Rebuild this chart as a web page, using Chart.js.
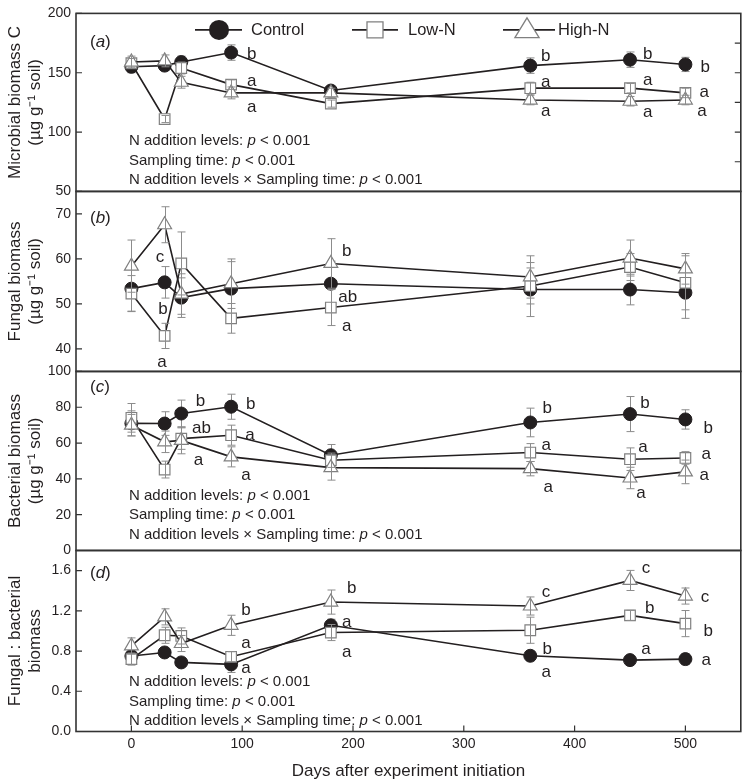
<!DOCTYPE html>
<html><head><meta charset="utf-8">
<script src="https://cdn.jsdelivr.net/npm/chart.js@4.4.0/dist/chart.umd.min.js"></script>
<style>html,body{margin:0;padding:0;background:#fff;}#wrap{position:relative;width:750px;height:782px;}</style>
</head><body><div id="wrap"><canvas id="c" width="750" height="782"></canvas></div>
<script>
// ---------- DATA ----------
const days = [0, 30, 45, 90, 180, 360, 450, 500];
const seriesNames = ['Control', 'Low-N', 'High-N'];

// (a) Microbial biomass C
const mbcControl = [155, 156, 159, 167, 135, 156, 161, 157];
const mbcLowN    = [158, 111, 154, 140, 124, 137, 137, 133];
const mbcHighN   = [159, 160, 142, 133, 133, 127, 126, 127];
const mbcErrControl = [5, 4, 5, 6.5, 4, 6.5, 6.5, 6];
const mbcErrLowN    = [4, 3, 5, 4, 3, 5, 4, 4];
const mbcErrHighN   = [5, 5, 5, 5, 4, 4, 4, 4];

// (b) Fungal biomass
const fungControl = [53.4, 54.8, 51.4, 53.4, 54.5, 53.2, 53.2, 52.5];
const fungLowN    = [52.3, 42.9, 59.0, 46.8, 49.2, 54.0, 58.2, 54.7];
const fungHighN   = [58.4, 67.6, 52.2, 54.5, 59.0, 56.0, 60.2, 57.8];
const fungErrControl = [5, 3.5, 4.4, 6, 5, 6, 3.4, 5.7];
const fungErrLowN    = [4, 2.8, 7, 3.3, 4, 4, 3, 6];
const fungErrHighN   = [5.8, 4, 4.5, 5.5, 5.5, 4.7, 4, 3.4];

// (c) Bacterial biomass
const bactControl = [71, 70.9, 76.5, 80.3, 53.2, 71.5, 76.2, 73.2];
const bactLowN    = [74.1, 45.2, 62.5, 64.4, 50.4, 54.7, 51, 51.7];
const bactHighN   = [70, 60.7, 61.5, 52.3, 46.3, 45.7, 40.5, 43.9];
const bactErrControl = [7, 6.6, 7.5, 7, 6, 8, 9.8, 5.4];
const bactErrLowN    = [8, 4.7, 6, 5.6, 4, 5, 6.3, 3.5];
const bactErrHighN   = [6, 6, 7.5, 5.6, 7, 4, 6, 6.6];

// (d) Fungal : bacterial biomass
const ratioControl = [0.75, 0.786, 0.687, 0.667, 1.056, 0.753, 0.71, 0.72];
const ratioLowN    = [0.72, 0.957, 0.95, 0.743, 0.984, 1.007, 1.155, 1.073];
const ratioHighN   = [0.851, 1.14, 0.875, 1.056, 1.287, 1.248, 1.502, 1.347];
const ratioErrControl = [0.04, 0.03, 0.03, 0.08, 0.06, 0.05, 0.02, 0.055];
const ratioErrLowN    = [0.06, 0.08, 0.08, 0.05, 0.08, 0.13, 0.05, 0.13];
const ratioErrHighN   = [0.08, 0.08, 0.08, 0.1, 0.12, 0.09, 0.1, 0.08];

// significance letters: [day, value, letter]
const lettersA = [[108.7,165.5,'b'],[108.7,142.7,'a'],[108.7,120.8,'a'],
  [374,163.8,'b'],[374,141.9,'a'],[374,117.4,'a'],
  [466,165.5,'b'],[466,143.6,'a'],[466,116.6,'a'],
  [518,154.5,'b'],[517,133.4,'a'],[515,117.4,'a']];
const lettersB = [[25.8,60.3,'c'],[28.5,48.8,'b'],[27.6,37.1,'a'],
  [194.3,61.6,'b'],[195.2,51.5,'ab'],[194.3,45.1,'a']];
const lettersC = [[62.4,83.6,'b'],[63.3,68,'ab'],[60.6,50.5,'a'],
  [107.8,81.4,'b'],[107,64.6,'a'],[103.4,42.2,'a'],
  [375.2,79.2,'b'],[374.3,59,'a'],[376.1,35.5,'a'],
  [463.5,82,'b'],[461.7,57.9,'a'],[459.9,32.1,'a'],
  [520.5,68,'b'],[518.7,53.5,'a'],[516.9,42.2,'a']];
const lettersD = [[103.4,1.205,'b'],[103.4,0.878,'a'],[103.4,0.631,'a'],
  [198.8,1.423,'b'],[194.3,1.086,'a'],[194.3,0.789,'a'],
  [374.3,1.383,'c'],[375.2,0.819,'b'],[374.3,0.591,'a'],
  [464.4,1.621,'c'],[467.9,1.225,'b'],[464.4,0.819,'a'],
  [517.8,1.334,'c'],[520.5,0.997,'b'],[518.7,0.71,'a']];

const statsLines = [
  [['N addition levels: ', false], ['p', true], [' < 0.001', false]],
  [['Sampling time: ', false], ['p', true], [' < 0.001', false]],
  [['N addition levels \u00d7 Sampling time: ', false], ['p', true], [' < 0.001', false]]
];

const xTicks = [0, 100, 200, 300, 400, 500];
const yTicksA = [50, 100, 150, 200];
const yMinorRightA = [75, 100, 125, 150, 175];
const yTicksB = [40, 50, 60, 70];
const yTicksC = [0, 20, 40, 60, 80, 100];
const yTicksD = [0, 0.4, 0.8, 1.2, 1.6];

const titleA = ['Microbial biomass C', '(\u00b5g g\u207b\u00b9 soil)'];
const titleB = ['Fungal biomass', '(\u00b5g g\u207b\u00b9 soil)'];
const titleC = ['Bacterial biomass', '(\u00b5g g\u207b\u00b9 soil)'];
const titleD = ['Fungal : bacterial', 'biomass'];
const xTitle = 'Days after experiment initiation';

// ---------- STYLE ----------
const FONT = '"Liberation Sans", Arial, Helvetica, sans-serif';
const INK = '#231f20';
const GREY = '#808080';
const ERR = '#8c8c8c';

const panels = [
  {id:'yA', key:'a', min:50, max:200, ticks:yTicksA, title:titleA, weight:179,
   series:[mbcControl, mbcLowN, mbcHighN], errs:[mbcErrControl, mbcErrLowN, mbcErrHighN],
   letters:lettersA, stats:true, statsBottom:-11.5, labelY:28.5, rightMinor:yMinorRightA},
  {id:'yB', key:'b', min:35, max:75, ticks:yTicksB, title:titleB, weight:181,
   series:[fungControl, fungLowN, fungHighN], errs:[fungErrControl, fungErrLowN, fungErrHighN],
   letters:lettersB, stats:false, labelY:26.5},
  {id:'yC', key:'c', min:0, max:100, ticks:yTicksC, title:titleC, weight:180,
   series:[bactControl, bactLowN, bactHighN], errs:[bactErrControl, bactErrLowN, bactErrHighN],
   letters:lettersC, stats:true, statsBottom:-16, labelY:16},
  {id:'yD', key:'d', min:0, max:1.8, ticks:yTicksD, title:titleD, weight:182,
   series:[ratioControl, ratioLowN, ratioHighN], errs:[ratioErrControl, ratioErrLowN, ratioErrHighN],
   letters:lettersD, stats:true, statsBottom:-10.5, labelY:22.5, fmt:v=>v.toFixed(1)}
];

const seriesStyle = [
  {pointStyle:'circle', pointRadius:6.5, pointBackgroundColor:INK, pointBorderColor:INK, pointBorderWidth:1, order:3},
  {pointStyle:'rect', pointRadius:7.5, pointBackgroundColor:'#fff', pointBorderColor:GREY, pointBorderWidth:1.2, order:2},
  {pointStyle:'triangle', pointRadius:8, pointBackgroundColor:'#fff', pointBorderColor:GREY, pointBorderWidth:1.2, order:1}
];

const datasets = [];
panels.forEach(p => {
  p.series.forEach((vals, s) => {
    datasets.push(Object.assign({
      label: seriesNames[s] + ' (' + p.key + ')',
      data: days.map((d, i) => ({x: d, y: vals[i]})),
      yAxisID: p.id, borderColor: INK, borderWidth: 1.6, tension: 0, fill: false,
      pointHoverRadius: 0
    }, seriesStyle[s]));
  });
});

const scales = {
  x: {type:'linear', min:-50, max:550, position:'bottom',
      grid:{display:false, drawTicks:false}, border:{display:false},
      afterBuildTicks: s => { s.ticks = xTicks.map(v => ({value:v})); },
      ticks:{font:{family:FONT, size:14}, color:INK, padding:4, maxRotation:0, autoSkip:false},
      title:{display:true, text:xTitle, font:{family:FONT, size:17}, color:INK, padding:{top:0, bottom:0}},
      afterFit: s => { s.height = 50.5; }}
};
// defined bottom-to-top so that the last one sits on top of the stack
[...panels].reverse().forEach(p => {
  scales[p.id] = {
    type:'linear', position:'left', stack:'panels', stackWeight:p.weight,
    min:p.min, max:p.max,
    grid:{display:false, drawTicks:false}, border:{display:false},
    afterBuildTicks: s => { s.ticks = p.ticks.map(v => ({value:v})); },
    ticks:{font:{family:FONT, size:14}, color:INK, padding:5, autoSkip:false,
           callback: v => p.fmt ? p.fmt(v) : String(v)},
    title:{display:true, text:p.title, font:{family:FONT, size:17, lineHeight:1.18}, color:INK, padding:{top:5, bottom:0}},
    afterFit: s => { s.width = 76; }
  };
});

function drawRich(ctx, segs, x, y, size) {
  let cx = x;
  for (const [t, it] of segs) {
    ctx.font = (it ? 'italic ' : '') + size + 'px ' + FONT;
    ctx.fillText(t, cx, y);
    cx += ctx.measureText(t).width;
  }
}

function drawMarker(ctx, style, x, y, r) {
  ctx.save();
  ctx.lineWidth = 1.3;
  if (style === 'circle') {
    ctx.fillStyle = INK; ctx.beginPath(); ctx.arc(x, y, r, 0, Math.PI*2); ctx.fill();
  } else if (style === 'rect') {
    ctx.fillStyle = '#fff'; ctx.strokeStyle = GREY;
    ctx.beginPath(); ctx.rect(x - r, y - r, 2*r, 2*r); ctx.fill(); ctx.stroke();
  } else {
    ctx.fillStyle = '#fff'; ctx.strokeStyle = GREY;
    ctx.beginPath(); ctx.moveTo(x, y - r*1.1); ctx.lineTo(x + r*1.1, y + r*0.7); ctx.lineTo(x - r*1.1, y + r*0.7); ctx.closePath();
    ctx.fill(); ctx.stroke();
  }
  ctx.restore();
}

function drawErrors(chart, seriesIdx) {
  const ctx = chart.ctx, xs = chart.scales.x;
  ctx.save();
  ctx.strokeStyle = ERR; ctx.lineWidth = 1;
  panels.forEach(p => {
    const ys = chart.scales[p.id];
    seriesIdx.forEach(s => {
      p.series[s].forEach((v, i) => {
        const e = p.errs[s][i];
        const x = Math.round(xs.getPixelForValue(days[i])) + 0.5;
        const y1 = ys.getPixelForValue(v + e), y2 = ys.getPixelForValue(v - e);
        ctx.beginPath();
        ctx.moveTo(x, y1); ctx.lineTo(x, y2);
        ctx.moveTo(x - 4, y1); ctx.lineTo(x + 4, y1);
        ctx.moveTo(x - 4, y2); ctx.lineTo(x + 4, y2);
        ctx.stroke();
      });
    });
  });
  ctx.restore();
}

const decor = {
  id:'decor',
  beforeDatasetsDraw(chart) { drawErrors(chart, [0]); },
  afterDatasetsDraw(chart) { drawErrors(chart, [1, 2]); },
  afterDraw(chart) {
    const ctx = chart.ctx, xs = chart.scales.x, ca = chart.chartArea;
    ctx.save();
    ctx.fillStyle = INK; ctx.strokeStyle = '#333'; ctx.textBaseline = 'middle';
    panels.forEach(p => {
      const ys = chart.scales[p.id];
      // frame
      ctx.lineWidth = 1.6; ctx.strokeStyle = '#333';
      ctx.strokeRect(ca.left, ys.top, ca.right - ca.left, ys.bottom - ys.top);
      // inward ticks
      ctx.lineWidth = 1.2;
      ctx.beginPath();
      p.ticks.forEach(v => { const y = ys.getPixelForValue(v); ctx.moveTo(ca.left, y); ctx.lineTo(ca.left + 6, y); });
      (p.rightMinor || []).forEach(v => { const y = ys.getPixelForValue(v); ctx.moveTo(ca.right, y); ctx.lineTo(ca.right - 6, y); });
      ctx.stroke();
      // panel label
      ctx.fillStyle = INK; ctx.textAlign = 'left';
      drawRich(ctx, [['(', false], [p.key, true], [')', false]], 90, ys.top + p.labelY, 17);
      // letters
      ctx.font = '17px ' + FONT; ctx.textAlign = 'center';
      p.letters.forEach(([d, v, t]) => ctx.fillText(t, xs.getPixelForValue(d), ys.getPixelForValue(v)));
      // stats
      if (p.stats) {
        ctx.textAlign = 'left';
        statsLines.forEach((segs, k) => drawRich(ctx, segs, 129, ys.bottom + p.statsBottom - (2 - k) * 19.5, 15));
      }
    });
    // x ticks inward
    ctx.lineWidth = 1.2; ctx.beginPath();
    xTicks.forEach(v => { const x = xs.getPixelForValue(v); ctx.moveTo(x, ca.bottom); ctx.lineTo(x, ca.bottom - 6); });
    ctx.stroke();
    // legend
    const ly = ca.top + 16.5;
    const items = [
      {style:'circle', r:10, x0:195, x1:242, mx:219, tx:251},
      {style:'rect', r:8, x0:352, x1:398, mx:375, tx:408},
      {style:'triangle', r:11, x0:503, x1:555, mx:527, tx:558}
    ];
    items.forEach((it, k) => {
      ctx.strokeStyle = INK; ctx.lineWidth = 1.6;
      ctx.beginPath(); ctx.moveTo(it.x0, ly); ctx.lineTo(it.x1, ly); ctx.stroke();
      drawMarker(ctx, it.style, it.mx, ly, it.r);
      ctx.fillStyle = INK; ctx.textAlign = 'left'; ctx.font = '16.5px ' + FONT;
      ctx.fillText(seriesNames[k], it.tx, ly + 1);
    });
    ctx.restore();
  }
};

new Chart(document.getElementById('c'), {
  type:'line',
  data:{datasets},
  options:{
    responsive:false, animation:false, devicePixelRatio:1,
    layout:{padding:{top:9.5, left:0, right:2, bottom:0}},
    plugins:{legend:{display:false}, tooltip:{enabled:false}},
    scales
  },
  plugins:[decor]
});
</script></body></html>
